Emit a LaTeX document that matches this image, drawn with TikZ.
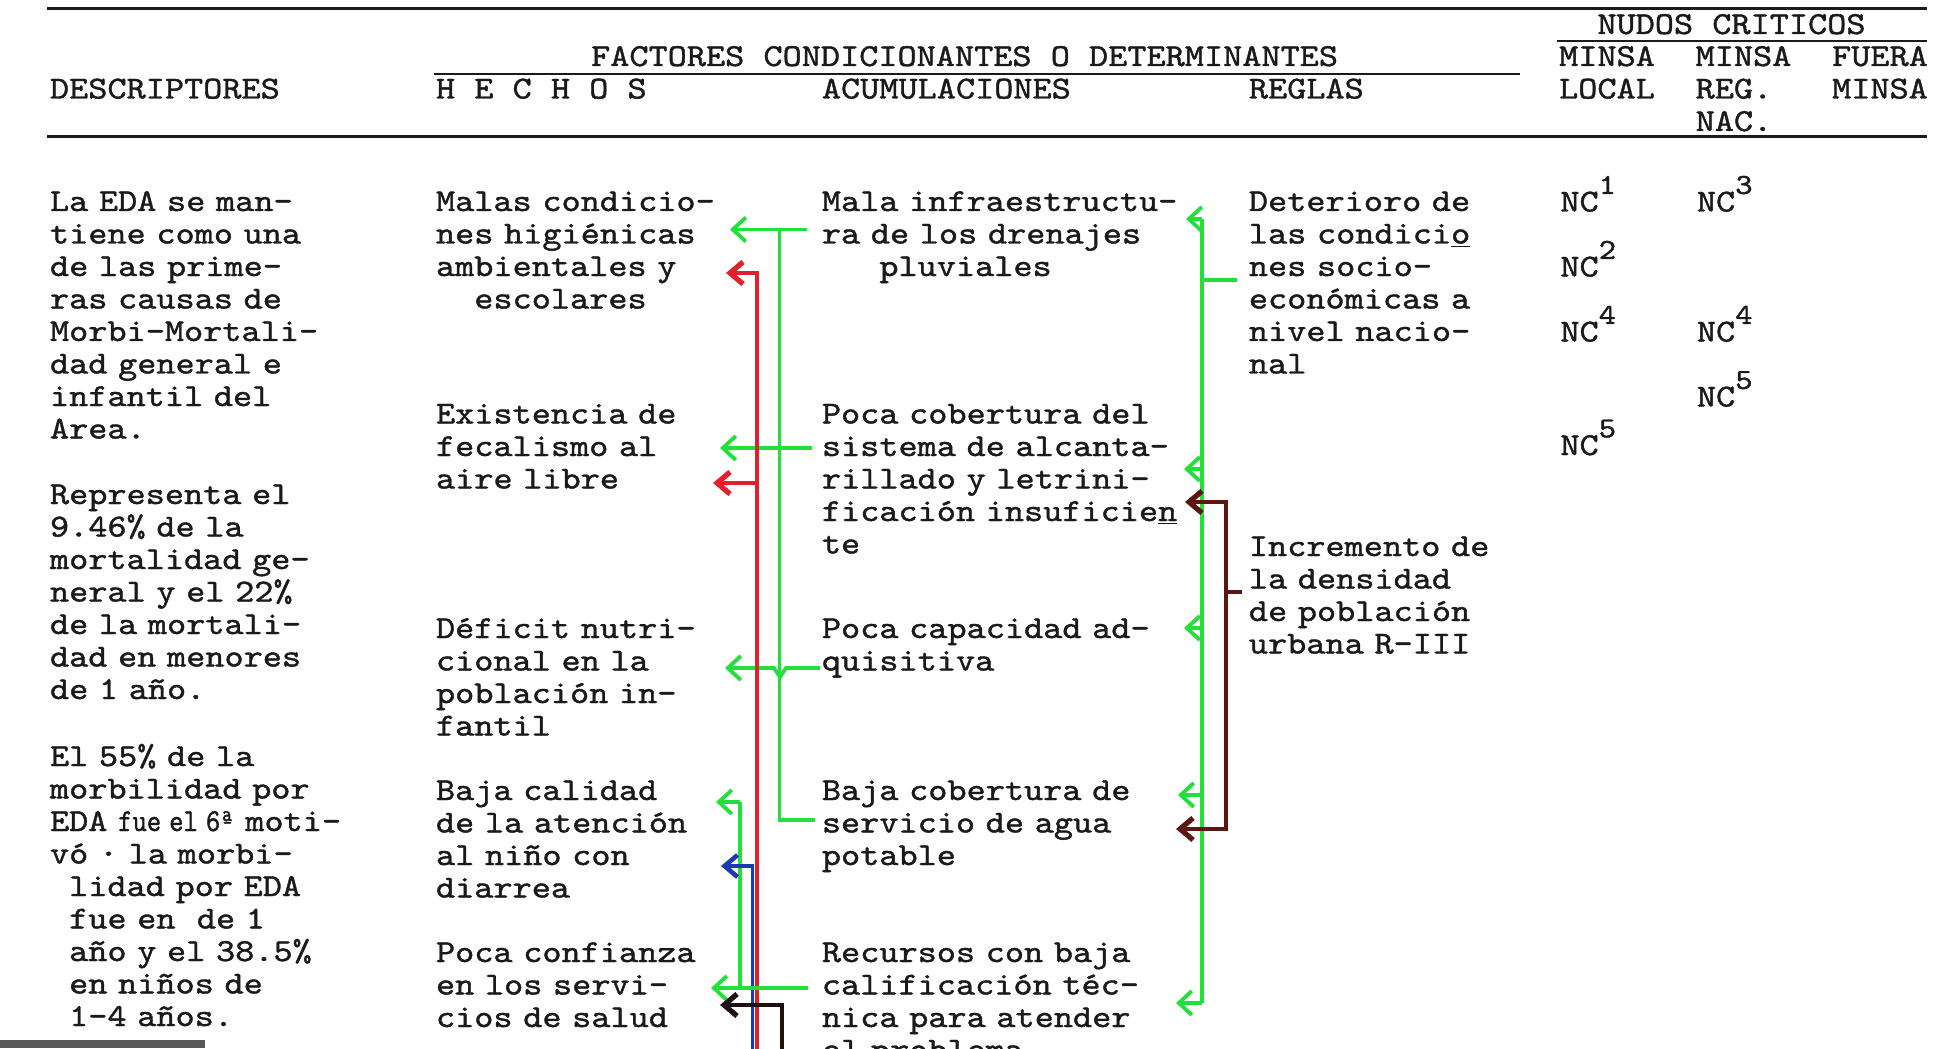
\documentclass[tikz,border=0pt]{standalone}
\usepackage{fontspec}
\usepackage{graphicx}
\newfontfamily\tw{lmmono10-regular}[Extension=.otf,FakeStretch=1.14,FakeBold=1.2]
\usetikzlibrary{arrows.meta}
\definecolor{gr}{HTML}{22DF3A}
\definecolor{rd}{HTML}{E41E2B}
\definecolor{bl}{HTML}{1A3CB0}
\definecolor{bk}{HTML}{1C1010}
\definecolor{br}{HTML}{5A1712}
\definecolor{ink}{HTML}{1A1A1A}
\newcommand\ncx[1]{NC\raisebox{0.55em}{\fontsize{14.5}{14.5}\selectfont #1}}
\begin{document}
\begin{tikzpicture}[x=0.5pt,y=-0.5pt,
  txt/.style={anchor=base west,inner sep=0pt,align=left,text width=230pt,
    font=\tw\fontsize{16}{16.25}\selectfont,text=ink},
  hd/.style={anchor=base west,inner sep=0pt,font=\tw\fontsize{16}{16.25}\selectfont,text=ink},
  rulel/.style={line width=1.4pt,draw=ink},
  gln/.style={draw=gr,line width=1.9pt},
  garr/.style={draw=gr,line width=1.9pt,-{Straight Barb[length=6.5pt,width=12pt]}},
  rarr/.style={draw=rd,line width=2pt,-{Straight Barb[length=6.5pt,width=11pt,line width=2.6pt]}},
  barr/.style={draw=bl,line width=1.9pt,-{Straight Barb[length=6.5pt,width=11pt,line width=2.3pt]}},
  karr/.style={draw=bk,line width=1.7pt,-{Straight Barb[length=6.5pt,width=11pt,line width=2.6pt]}},
  brarr/.style={draw=br,line width=1.9pt,{Straight Barb[length=6.5pt,width=11pt,line width=2.6pt]}-{Straight Barb[length=6.5pt,width=11pt,line width=2.6pt]}},
]
\useasboundingbox (0,0) rectangle (1946,1048);
\clip (0,0) rectangle (1946,1048);
\fill[white] (0,0) rectangle (1946,1048);

% ---- header rules ----
\coordinate (r1a) at (47,8.7);   \coordinate (r1b) at (1927,8.7);
\coordinate (r2a) at (1557,41);  \coordinate (r2b) at (1927,41);
\coordinate (r3a) at (434,74);   \coordinate (r3b) at (1520,74);
\coordinate (r4a) at (47,136.5); \coordinate (r4b) at (1927,136.5);
\draw[rulel,line width=1.5pt] (r1a) -- (r1b);
\draw[rulel,line width=1.2pt] (r2a) -- (r2b);
\draw[rulel,line width=1.3pt] (r3a) -- (r3b);
\draw[rulel,line width=1.7pt] (r4a) -- (r4b);

% ---- header texts ----
\node[hd] (hnudos) at (1597,34) {NUDOS CRITICOS};
\node[hd] (hfact) at (590.7,66) {FACTORES CONDICIONANTES O DETERMINANTES};
\node[hd] (hm1) at (1558.7,66) {MINSA};
\node[hd] (hm2) at (1695.2,66) {MINSA};
\node[hd] (hm3) at (1831.7,66) {FUERA};
\node[hd] (hdesc) at (49.6,98.5) {DESCRIPTORES};
\node[hd] (hhech) at (435.6,98.5) {H E C H O S};
\node[hd] (hacum) at (821.5,98.5) {ACUMULACIONES};
\node[hd] (hregl) at (1248.5,98.5) {REGLAS};
\node[hd] (hloc) at (1558.7,98.5) {LOCAL};
\node[hd] (hreg) at (1695.2,98.5) {REG.};
\node[hd] (hmin) at (1831.7,98.5) {MINSA};
\node[hd] (hnac) at (1695.2,131) {NAC.};

% ---- descriptores ----
\node[txt] (d1) at (49.6,211) {La EDA se man-\\tiene como una\\de las prime-\\ras causas de\\Morbi-Mortali-\\dad general e\\infantil del\\Area.};
\node[txt] (d2) at (49.6,504) {Representa el\\9.46\% de la\\mortalidad ge-\\neral y el 22\%\\de la mortali-\\dad en menores\\de 1 año.};
\node[txt] (d3) at (49.6,766) {El 55\% de la\\morbilidad por\\EDA \scalebox{0.75}[1]{fue el 6ª} moti-\\vó · la morbi-\\\phantom{x}lidad por EDA\\\phantom{x}fue en\ \ de 1\\\phantom{x}año y el 38.5\%\\\phantom{x}en niños de\\\phantom{x}1-4 años.};

% ---- hechos ----
\node[txt] (h1) at (435.6,211) {Malas condicio-\\nes higiénicas\\ambientales y\\\phantom{xx}escolares};
\node[txt] (h2) at (435.6,423.5) {Existencia de\\fecalismo al\\aire libre};
\node[txt] (h3) at (435.6,638) {Déficit nutri-\\cional en la\\población in-\\fantil};
\node[txt] (h4) at (435.6,800) {Baja calidad\\de la atención\\al niño con\\diarrea};
\node[txt] (h5) at (435.6,962) {Poca confianza\\en los servi-\\cios de salud};

% ---- acumulaciones ----
\node[txt] (a1) at (821.5,211) {Mala infraestructu-\\ra de los drenajes\\\phantom{xxx}pluviales};
\node[txt] (a2) at (821.5,423.5) {Poca cobertura del\\sistema de alcanta-\\rillado y letrini-\\ficación insuficie\underline{n}\\te};
\node[txt] (a3) at (821.5,638) {Poca capacidad ad-\\quisitiva};
\node[txt] (a4) at (821.5,800) {Baja cobertura de\\servicio de agua\\potable};
\node[txt] (a5) at (821.5,962) {Recursos con baja\\calificación téc-\\nica para atender\\el problema};

% ---- reglas ----
\node[txt] (g1) at (1248.5,211) {Deterioro de\\las condici\underline{o}\\nes socio-\\económicas a\\nivel nacio-\\nal};
\node[txt] (g2) at (1248.5,556) {Incremento de\\la densidad\\de población\\urbana R-III};

% ---- nudos criticos ----
\node[hd] (n1) at (1560,211.5) {\ncx{1}};
\node[hd] (n3) at (1696.5,211.5) {\ncx{3}};
\node[hd] (n2) at (1560,276.5) {\ncx{2}};
\node[hd] (n4a) at (1560,341.5) {\ncx{4}};
\node[hd] (n4b) at (1696.5,341.5) {\ncx{4}};
\node[hd] (n5b) at (1696.5,406.5) {\ncx{5}};
\node[hd] (n5a) at (1560,455) {\ncx{5}};

% ---- connector coordinates ----
\coordinate (gA1) at (807,229.5);  \coordinate (gT1) at (730,229.5);
\coordinate (gV1t) at (779.5,229.5); \coordinate (gV1b) at (779.5,820); \coordinate (gV1e) at (815,820);
\coordinate (gA2) at (812,448);    \coordinate (gT2) at (720,448);
\coordinate (gA3) at (820,668);    \coordinate (gT3) at (725,668);
\coordinate (gS1) at (740,802);    \coordinate (gST) at (716,802);
\coordinate (gS2) at (740,988);
\coordinate (gA5) at (808,988);    \coordinate (gT5) at (711,988);
\coordinate (rB) at (757,1070);    \coordinate (rC) at (757,273); \coordinate (rT1) at (726,273);
\coordinate (rJ) at (757,483);     \coordinate (rT2) at (713,483);
\coordinate (bB) at (752.5,1070);  \coordinate (bC) at (752.5,866); \coordinate (bT) at (721,866);
\coordinate (kB) at (782,1070);    \coordinate (kC) at (782,1005); \coordinate (kT) at (720,1005);
\coordinate (GVt) at (1202,219);   \coordinate (GVb) at (1202,1003);
\coordinate (GT0) at (1186,219);
\coordinate (GS) at (1237,280);    \coordinate (GSv) at (1202,280);
\coordinate (GJ1) at (1202,469);   \coordinate (GT1) at (1184,469);
\coordinate (GJ2) at (1202,628);   \coordinate (GT2) at (1184,628);
\coordinate (GJ3) at (1202,795);   \coordinate (GT3) at (1178,795);
\coordinate (GT4) at (1176,1003);
\coordinate (KT1) at (1185,502);   \coordinate (KC1) at (1226,502);
\coordinate (KC2) at (1226,829);   \coordinate (KT2) at (1176,829);
\coordinate (KS) at (1242,592);    \coordinate (KSv) at (1226,592);

% ---- draw connectors ----
\draw[gln] (gV1t) -- (gV1b) -- (gV1e);
\draw[garr] (gA1) -- (gT1);
\draw[garr] (gA2) -- (gT2);
\draw[garr] (gA3) -- (786,668) -- (780,677) -- (774,668) -- (gT3);
\draw[gln] (gS2) -- (gS1);
\draw[garr] (gS1) -- (gST);

\draw[rarr] (rB) -- (rC) -- (rT1);
\draw[rarr] (rJ) -- (rT2);
\draw[barr] (bB) -- (bC) -- (bT);
\draw[garr] (gA5) -- (gT5);
\draw[karr] (kB) -- (kC) -- (kT);

\draw[gln,line width=2.1pt] (GVt) -- (GVb);
\draw[garr] (GVt) -- (GT0);
\draw[gln,line width=2.4pt] (GSv) -- (GS);
\draw[garr] (GJ1) -- (GT1);
\draw[garr] (GJ2) -- (GT2);
\draw[garr] (GJ3) -- (GT3);
\draw[garr] (GVb) -- (GT4);
\draw[brarr] (KT1) -- (KC1) -- (KC2) -- (KT2);
\draw[draw=br,line width=1.9pt] (KSv) -- (KS);

% scan smudge bottom-left
\fill[black!65] (0,1040) rectangle (205,1048);
\end{tikzpicture}
\end{document}
